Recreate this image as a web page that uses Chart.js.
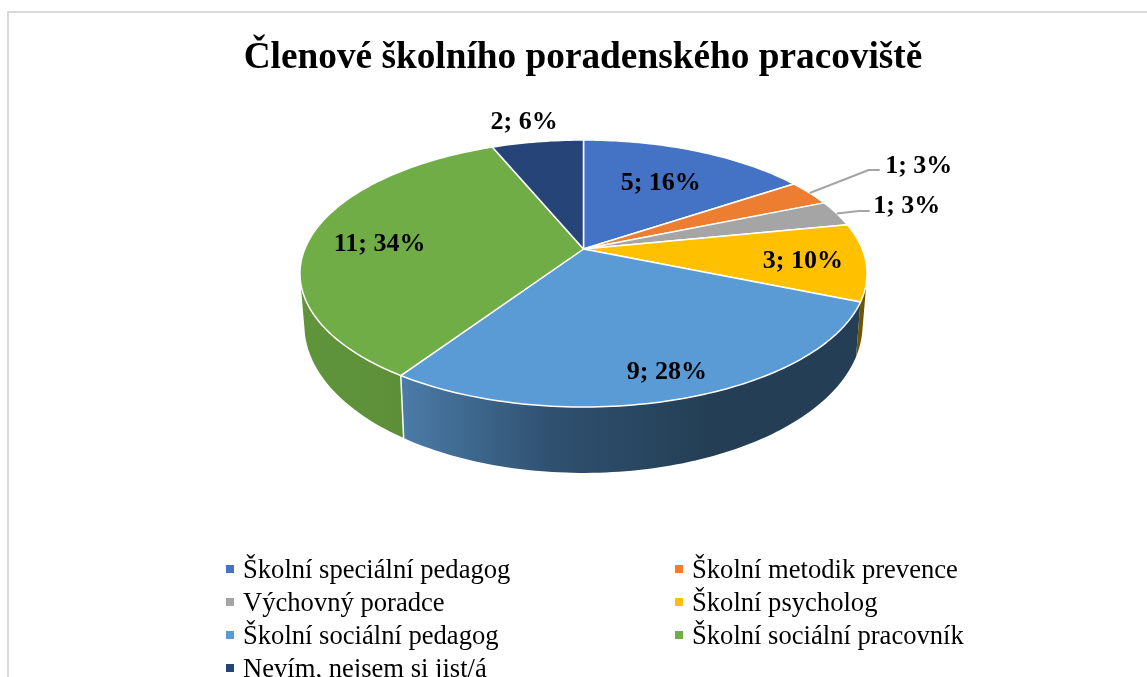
<!DOCTYPE html>
<html lang="cs">
<head>
<meta charset="utf-8">
<title>Členové školního poradenského pracoviště</title>
<script src="https://cdn.jsdelivr.net/npm/chart.js@4"></script>
<style>
    html, body { margin: 0; padding: 0; background: #fff; overflow: hidden; width: 1147px; height: 677px; }
    #frame { position: absolute; left: 7px; top: 11px; width: 1200px; height: 800px; border-left: 2px solid #d9d9d9; border-top: 2px solid #d9d9d9; }
    #chart { position: absolute; left: 0; top: 0; }
    #legend { position: absolute; left: 0; top: 0; font-family: "Liberation Serif", serif; font-size: 26.6px; color: #000; }
    .item { position: absolute; white-space: nowrap; line-height: 33px; height: 33px; }
    .item i { position: absolute; left: -17px; top: 12px; width: 8px; height: 8px; }
</style>
</head>
<body>
<div id="frame"></div>
<canvas id="chart" width="1147" height="677"></canvas>
<div id="legend"></div>
<script>
// Data
const title = 'Členové školního poradenského pracoviště';
const categories = ['Školní speciální pedagog', 'Školní metodik prevence', 'Výchovný poradce', 'Školní psycholog', 'Školní sociální pedagog', 'Školní sociální pracovník', 'Nevím, nejsem si jist/á'];
const counts = [5, 1, 1, 3, 9, 11, 2];
const percents = [16, 3, 3, 10, 28, 34, 6];

// Colours
const topColors = ['#4472c4', '#ed7d31', '#a5a5a5', '#ffc000', '#5b9bd5', '#70ad47', '#264478'];
const sideColors = [
    ['#2f4f88', '#2f4f88'],
    ['#8f4b1d', '#8f4b1d'],
    ['#636363', '#636363'],
    ['#7f6000', '#6b5000'],
    ['#4b7ca8', '#2f506f', '#243f55', '#243f55'],
    ['#60953c', '#5a8a34'],
    ['#1a2f53', '#1a2f53']
];

// Perspective of the pie disc: top face and bottom face
const TILT = 0.1835;
const topFace = { cx: 583.5, cy: 249, rx: 278.7, ry: 129 };
const bottomFace = { cx: 583.5, cy: 297.9, rx: 274.3, ry: 142.9 };

// Label placement: radius along the middle of the slice, then a nudge
const labelSpots = [
    { r: 0.65, dx: 0, dy: 1 },
    { r: 1, dx: 109, dy: -27, elbow: [59, -23], end: [70, -23] },
    { r: 1, dx: 70, dy: -7, elbow: [22, -2.5], end: [33, -2.5] },
    { r: 0.78, dx: 0, dy: 2 },
    { r: 0.837, dx: 4, dy: 2 },
    { r: 0.745, dx: 0, dy: 5 },
    { r: 1.249, dx: -4, dy: 2 }
];

// Project a point of the pie circle (angle from the top, radius 0..1) to the page
function project(face, angle, r) {
    const u = r * Math.sin(angle);
    const v = -r * Math.cos(angle);
    const w = 1 - TILT * v;
    return { x: face.cx + face.rx * u / w, y: face.cy + face.ry * v / w };
}

function rimPoints(face, from, to) {
    const steps = Math.max(2, Math.ceil((to - from) / 0.02));
    const points = [];
    for (let i = 0; i <= steps; i++) {
        points.push(project(face, from + (to - from) * i / steps, 1));
    }
    return points;
}

function tracePath(ctx, points) {
    ctx.beginPath();
    points.forEach((p, i) => i ? ctx.lineTo(p.x, p.y) : ctx.moveTo(p.x, p.y));
    ctx.closePath();
}

function signedArea(points) {
    return points.reduce((sum, p, i) => {
        const q = points[(i + 1) % points.length];
        return sum + p.x * q.y - q.x * p.y;
    }, 0);
}

// Draws the slices of the library's arc elements as a 3D disc
const discPlugin = {
    id: 'disc',
    beforeDatasetsDraw(chart) {
        const ctx = chart.ctx;
        const arcs = chart.getDatasetMeta(0).data;
        const angles = arcs.map(a => ({ from: a.startAngle + Math.PI / 2, to: a.endAngle + Math.PI / 2 }));

        // Side walls: one path of same-way-round strips, so there are no seams and the silhouette is filled
        arcs.forEach((arc, i) => {
            const upper = rimPoints(topFace, angles[i].from, angles[i].to);
            const lower = rimPoints(bottomFace, angles[i].from, angles[i].to);
            const xs = upper.concat(lower).map(p => p.x);
            const grad = ctx.createLinearGradient(Math.min(...xs), 0, Math.max(...xs), 0);
            sideColors[i].forEach((c, k) => grad.addColorStop(k / (sideColors[i].length - 1), c));
            ctx.beginPath();
            for (let k = 0; k < upper.length - 1; k++) {
                const quad = [upper[k], upper[k + 1], lower[k + 1], lower[k]];
                if (signedArea(quad) < 0) quad.reverse();
                quad.forEach((p, n) => n ? ctx.lineTo(p.x, p.y) : ctx.moveTo(p.x, p.y));
                ctx.closePath();
            }
            ctx.fillStyle = grad;
            ctx.fill();
        });

        // Seam between the two front walls
        const seam = angles[4].to;
        const a = project(topFace, seam, 1);
        const b = project(bottomFace, seam, 1);
        ctx.beginPath();
        ctx.moveTo(a.x, a.y);
        ctx.lineTo(b.x, b.y);
        ctx.strokeStyle = '#fff';
        ctx.lineWidth = 1.5;
        ctx.stroke();

        // Top face
        arcs.forEach((arc, i) => {
            const wedge = [project(topFace, 0, 0)].concat(rimPoints(topFace, angles[i].from, angles[i].to));
            tracePath(ctx, wedge);
            ctx.fillStyle = topColors[i];
            ctx.fill();
            ctx.lineJoin = 'round';
            ctx.strokeStyle = '#fff';
            ctx.lineWidth = 1.5;
            ctx.stroke();
        });

        // Labels and leader lines
        ctx.font = 'bold 26px "Liberation Serif", serif';
        ctx.textAlign = 'center';
        ctx.textBaseline = 'middle';
        arcs.forEach((arc, i) => {
            const spot = labelSpots[i];
            const p = project(topFace, (angles[i].from + angles[i].to) / 2, spot.r);
            if (spot.elbow) {
                ctx.beginPath();
                ctx.moveTo(p.x, p.y);
                ctx.lineTo(p.x + spot.elbow[0], p.y + spot.elbow[1]);
                ctx.lineTo(p.x + spot.end[0], p.y + spot.end[1]);
                ctx.strokeStyle = '#a5a5a5';
                ctx.lineWidth = 2;
                ctx.stroke();
            }
            ctx.fillStyle = '#000';
            ctx.fillText(counts[i] + '; ' + percents[i] + '%', p.x + spot.dx, p.y + spot.dy);
        });
        return false;
    }
};

new Chart(document.getElementById('chart'), {
    type: 'pie',
    data: {
        labels: categories,
        datasets: [{ data: counts, backgroundColor: topColors }]
    },
    options: {
        responsive: false,
        animation: false,
        layout: { padding: { left: 19, top: 36 } },
        plugins: {
            legend: { display: false },
            tooltip: { enabled: false },
            title: {
                display: true,
                text: title,
                color: '#000',
                font: { family: '"Liberation Serif", serif', size: 37.3, weight: 'bold' },
                padding: 0
            }
        }
    },
    plugins: [discPlugin]
});

// Two column legend
const legendBox = document.getElementById('legend');
categories.forEach((name, i) => {
    const item = document.createElement('div');
    item.className = 'item';
    item.style.left = (i % 2 ? 692 : 243) + 'px';
    item.style.top = (553 + 33 * Math.floor(i / 2)) + 'px';
    item.innerHTML = `<i style="background:${topColors[i]}"></i>${name}`;
    legendBox.appendChild(item);
});
</script>
</body>
</html>
